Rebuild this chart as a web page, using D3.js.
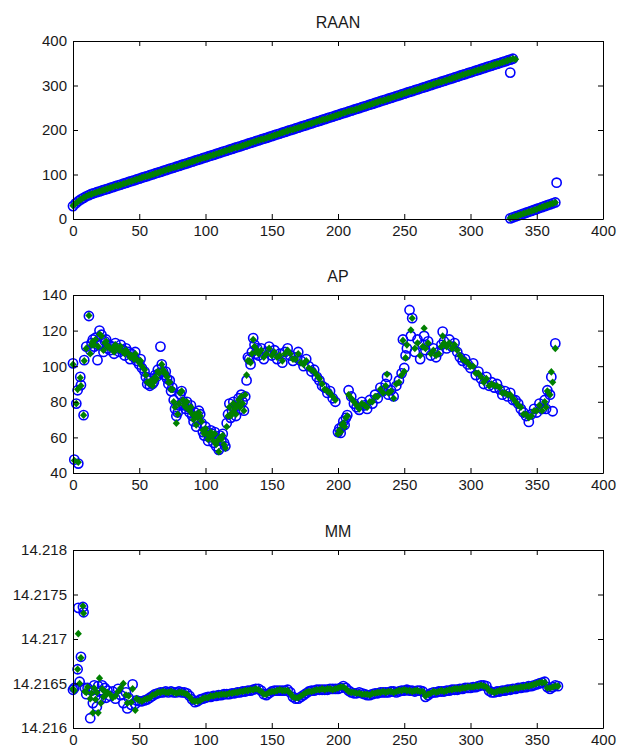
<!DOCTYPE html>
<html>
<head>
<meta charset="utf-8">
<script src="https://cdn.jsdelivr.net/npm/d3@7"></script>
<style>
  body { margin: 0; background: #fff; }
  text { font-family: "Liberation Sans", Arial, sans-serif; }
</style>
</head>
<body>
<svg id="chart" width="617" height="751"></svg>
<script>
// tick values
const xTicks = [0, 50, 100, 150, 200, 250, 300, 350, 400];
const raanTicks = [0, 100, 200, 300, 400];
const apTicks = [40, 60, 80, 100, 120, 140];
const mmTicks = [14.216, 14.2165, 14.217, 14.2175, 14.218];
const mmTickLabels = ["14.216", "14.2165", "14.217", "14.2175", "14.218"];

// RAAN (blue circles = obs, green diamonds = fit)
const raanDays = [0,2,4,6,8,10,12,14,16,18,20,22,24,26,28,30,32,34,36,38,
  40,42,44,46,48,50,52,54,56,58,60,62,64,66,68,70,72,74,76,78,
  80,82,84,86,88,90,92,94,96,98,100,102,104,106,108,110,112,114,116,118,
  120,122,124,126,128,130,132,134,136,138,140,142,144,146,148,150,152,154,156,158,
  160,162,164,166,168,170,172,174,176,178,180,182,184,186,188,190,192,194,196,198,
  200,202,204,206,208,210,212,214,216,218,220,222,224,226,228,230,232,234,236,238,
  240,242,244,246,248,250,252,254,256,258,260,262,264,266,268,270,272,274,276,278,
  280,282,284,286,288,290,292,294,296,298,300,302,304,306,308,310,312,314,316,318,
  320,322,324,326,328,330,332,
  330,332,334,336,338,340,342,344,346,348,350,352,354,356,358,360,362,364,
  330,365,334];
const raanObs = [29,35,40,44,47.5,51,53.5,56.4,58.3,60.2,62.1,64.0,65.9,67.8,69.7,71.7,73.6,75.5,77.4,79.3,
  81.2,83.1,85.0,86.9,88.8,90.8,92.7,94.6,96.5,98.4,100.3,102.2,104.1,106.0,107.9,109.9,111.8,113.7,115.6,117.5,
  119.4,121.3,123.2,125.1,127.0,129.0,130.9,132.8,134.7,136.6,138.5,140.4,142.3,144.2,146.1,148.1,150.0,151.9,153.8,155.7,
  157.6,159.5,161.4,163.3,165.2,167.2,169.1,171.0,172.9,174.8,176.7,178.6,180.5,182.4,184.3,186.3,188.2,190.1,192.0,193.9,
  195.8,197.7,199.6,201.5,203.4,205.4,207.3,209.2,211.1,213.0,214.9,216.8,218.7,220.6,222.5,224.5,226.4,228.3,230.2,232.1,
  234.0,235.9,237.8,239.7,241.6,243.6,245.5,247.4,249.3,251.2,253.1,255.0,256.9,258.8,260.7,262.7,264.6,266.5,268.4,270.3,
  272.2,274.1,276.0,277.9,279.8,281.8,283.7,285.6,287.5,289.4,291.3,293.2,295.1,297.0,298.9,300.9,302.8,304.7,306.6,308.5,
  310.4,312.3,314.2,316.1,318.0,320.0,321.9,323.8,325.7,327.6,329.5,331.4,333.3,335.2,337.1,339.1,341.0,342.9,344.8,346.7,
  348.6,350.5,352.4,354.3,356.2,358.2,360.1,
  1.5,3.6,5.7,7.8,9.9,12.0,14.1,16.2,18.3,20.4,22.5,24.6,26.7,28.8,30.9,33.0,35.1,37.2,
  329,81.6,null];
const raanFit = [30,35,40,44,48,51,54,56,58,60,62,64,66,68,70,72,74,75,77,79,
  81,83,85,87,89,91,93,95,96,98,100,102,104,106,108,110,112,114,116,117,
  119,121,123,125,127,129,131,133,135,137,138,140,142,144,146,148,150,152,154,156,
  158,160,161,163,165,167,169,171,173,175,177,179,180,182,184,186,188,190,192,194,
  196,198,200,201,203,205,207,209,211,213,215,217,219,221,223,224,226,228,230,232,
  234,236,238,240,242,244,245,247,249,251,253,255,257,259,261,263,265,266,268,270,
  272,274,276,278,280,282,284,286,287,289,291,293,295,297,299,301,303,305,307,308,
  310,312,314,316,318,320,322,324,326,328,329,331,333,335,337,339,341,343,345,347,
  349,350,352,354,356,358,360,
  2,4,6,8,10,12,14,16,18,20,22,25,27,29,31,33,35,37,
  null,null,359];

// AP
const apDays = [0,1,2.5,3.5,4,5.5,6,8,8.5,10,12,13,14,15,16,17,18.5,19,20,21.5,
  23,24,25,26,27,28,30,31,32,34,35,36,38,39,40,42,43,44,46,47,
  48,50,51,52,54,55,56,57,58,59,60,61,62,63,64,65,66,67,68,69,
  70,71,72,73,74,75,76,77,78,79,80,81,82,83,84,85,86,87,88,89,
  90,91,92,93,94,95,96,97,98,99,100,101,102,103,104,105,106,107,108,109,
  110,111,112,113,114,115,116,117,118,119,120,121,122,123,124,125,126,127,128,129,
  130,131,132,133,134,135,136,137,138,139,
  140,142,144,146,148,150,152,154,156,158,160,162,164,166,168,170,172,174,176,178,
  180,182,184,186,188,190,192,194,196,198,
  200,201,202,203,204,205,206,207,208,
  210,212,214,216,218,220,222,224,226,228,230,232,234,236,
  237,238,240,242,244,246,248,249,250,251,252,254,255,256,258,260,262,264,265,266,
  268,270,272,274,276,278,279,280,282,284,286,288,290,292,294,296,298,300,302,304,
  306,308,310,312,314,316,318,320,322,324,326,328,330,332,334,336,338,340,342,344,
  346,348,350,352,354,356,357,358,360,361,362,364];
const apObs = [101.6,47.5,79,86.5,45.3,94,89.4,72.5,103.4,111,128.2,109,113,115,111,116,103.4,112,120,117.7,
  108,114,115,110,112,109,111,107,113,110,108,112,109,106,110,108,104,107,105,108,
  103,101,104,99,97,94,90,92,89,93,90,91,95,94,98,96,111,101,97,95,
  97,93,90,92,86,88,81,76,72,74,78,84,86,80,78,76,80,77,74,78,
  72,69,74,66,70,75,73,68,63,61,66,63,58,60,64,62,57,63,55,59,
  53,61,58,62,57,55,68,73,79,71,75,80,77,72,78,82,76,84,80,75,
  83,92,105,104,101,108,115.8,112,107,110,
  106,110,104,108,111,106,109,104,107,102,108,110,106,103,105,108,103,100,104,100,
  97,98,94,92,89,88,85,86,82,80,
  63,65,62.5,66,69,67,71,72.5,86.5,
  83,79,77,75.5,80,78,76,81,79,84,82,88,86,90,
  94,84,86.5,83,89,92,96,115,99,106,110,131.6,117,127,108,115,104,112,117,109,
  114,106,110,105,108,112,119.4,114,110,115,111,113,108,105,103,104,101,99,101.6,95,
  97,93,90,94,89,91,88,90,87,84,86,83,85,81,80.9,79,76,74,72,68.7,
  73,76,74,79,76,81,76,86.5,84,94,74.7,112.8];
const apFit = [101,47,79,87,46,93.5,89,72.5,103,110,128.5,107,112,114,112,115,null,111,118,117,
  109,113,114,111,111,110,110,108,112,110,109,111,108,107,109,107,105,106,104,107,
  104,102,103,100,98,95,91,91,90,92,89,91,94,93,97,96,null,101,98,96,
  96,94,91,91,87,87,80,77,68,73,79,85,86,81,78,77,80,76,75,77,
  73,70,73,67,71,74,72,69,64,62,65,62,59,61,63,61,58,62,56,58,
  52,60,59,61,56,54,66,72,77,72,74,79,76,73,78,81,77,83,79,75,
  84,95,103,103,102,107,115,111,108,109,
  107,109,105,107,110,106,108,105,106,103,107,109,107,104,104,107,102,101,103,99,
  98,97,95,93,90,87,86,85,83,81,
  62,64,63,67,68,66,71,72,84,
  82,80,78,76,79,78,77,80,80,83,83,87,85,89,
  95.5,85,86,82,90,91,95,114.5,97,104.7,112,null,120.3,126.9,110,113,106,111,121.3,110,
  113,107,109,106,107,111,117,113,111,113,110,112,109,106,104,103,102,100,100,96,
  96,94,91,93,89,90,89,89,88,85,85,84,84,82,80,78,77,73,73,71,
  72,75,75,78,75,80,77,86,84,96.8,91,110];

// MM
const mmDays = [0,1,3.5,4,5,6,7.5,8,9,10,11,13,14,15,16,17,18,19,20,21,
  22,23,24,25,26,28,30,32,34,36,38,40,41,42,44,45,47,48,
  50,52,54,56,58,60,62,64,66,68,70,72,74,76,78,80,82,84,86,88,
  90,92,94,96,98,100,102,104,106,108,110,112,114,116,118,120,122,124,126,128,
  130,132,134,136,138,140,142,144,146,148,150,152,154,156,158,160,162,164,166,168,
  170,172,174,176,178,180,182,184,186,188,190,192,194,196,198,200,202,204,206,208,
  210,212,214,216,218,220,222,224,226,228,230,232,234,236,238,240,242,244,246,248,
  250,252,254,256,258,260,262,264,266,268,270,272,274,276,278,280,282,284,286,288,
  290,292,294,296,298,300,302,304,306,308,310,312,314,316,318,320,322,324,326,328,
  330,332,334,336,338,340,342,344,346,348,350,352,354,356,358,360,362,364,366];
const mmObs = [14.21643,14.21645,14.21666,14.21735,14.21652,14.2168,14.21736,14.2173,14.21645,14.21638,
  14.21645,14.21611,14.21642,14.21628,14.21648,14.21636,14.21624,14.21647,14.21641,14.21632,
  14.21648,14.21639,14.21645,14.21634,14.21642,14.21636,14.21641,14.21633,14.21644,14.21637,
  14.21628,14.2164,14.21622,14.21634,14.21626,14.21649,14.21627,14.21631,
  14.2163,14.2163,14.21631,14.21632,14.21634,14.21636,14.21638,14.21639,14.2164,14.2164,
  14.21641,14.2164,14.21641,14.2164,14.2164,14.21641,14.2164,14.2164,14.21639,14.21636,
  14.21632,14.21629,14.2163,14.21632,14.21633,14.21634,14.21635,14.21635,14.21636,14.21636,
  14.21637,14.21637,14.21638,14.21638,14.21638,14.21639,14.21639,14.2164,14.2164,14.21641,
  14.21641,14.21642,14.21642,14.21643,14.21644,14.21644,14.21642,14.21638,14.21637,14.21639,
  14.21641,14.21642,14.21642,14.21642,14.21642,14.21642,14.21643,14.2164,14.21635,14.21633,
  14.21633,14.21635,14.21637,14.21639,14.21641,14.21642,14.21642,14.21643,14.21643,14.21643,
  14.21643,14.21643,14.21644,14.21644,14.21644,14.21644,14.21645,14.21647,14.21645,14.21642,
  14.2164,14.21639,14.21639,14.2164,14.21639,14.21638,14.21637,14.21637,14.21638,14.21639,
  14.21639,14.2164,14.2164,14.2164,14.2164,14.21641,14.21641,14.2164,14.21641,14.21642,
  14.21642,14.21643,14.21642,14.21642,14.21641,14.21642,14.21642,14.21641,14.21635,14.21637,
  14.21639,14.2164,14.2164,14.21641,14.21641,14.21641,14.21642,14.21642,14.21643,14.21643,
  14.21643,14.21644,14.21644,14.21645,14.21645,14.21645,14.21646,14.21646,14.21647,14.21648,
  14.21648,14.21647,14.21642,14.2164,14.2164,14.21641,14.21641,14.21642,14.21642,14.21643,
  14.21643,14.21644,14.21644,14.21645,14.21645,14.21646,14.21646,14.21647,14.21647,14.21648,
  14.21649,14.2165,14.21651,14.21652,14.21646,14.21644,14.21646,14.21648,14.21647];
const mmFit = [14.21644,14.21642,14.21666,14.21706,14.2165,14.21679,14.21737,14.21729,14.21641,14.2164,
  14.21646,14.21633,14.21639,14.21617,14.21645,14.21632,14.2164,14.21617,14.21656,14.21628,
  14.21644,14.21635,14.21641,14.21637,14.2164,14.21638,14.21634,14.21636,14.21641,14.21645,
  14.2165,14.21637,14.21628,14.21636,14.21629,14.21644,14.2162,14.21633,
  14.21631,14.2163,14.21632,14.21633,14.21634,14.21637,14.21638,14.2164,14.2164,14.21641,
  14.2164,14.2164,14.21641,14.2164,14.21639,14.2164,14.2164,14.21639,14.21638,14.21635,
  14.21631,14.2163,14.2163,14.21631,14.21633,14.21634,14.21634,14.21636,14.21636,14.21637,
  14.21637,14.21638,14.21638,14.21638,14.21639,14.21639,14.2164,14.2164,14.21641,14.21641,
  14.21642,14.21642,14.21643,14.21643,14.21644,14.21643,14.21641,14.21638,14.21638,14.2164,
  14.21641,14.21641,14.21642,14.21643,14.21642,14.21642,14.21642,14.21639,14.21635,14.21634,
  14.21634,14.21636,14.21638,14.2164,14.21641,14.21641,14.21642,14.21643,14.21643,14.21644,
  14.21643,14.21644,14.21644,14.21643,14.21644,14.21645,14.21646,14.21646,14.21644,14.21641,
  14.2164,14.2164,14.21639,14.21639,14.21638,14.21638,14.21638,14.21637,14.21639,14.21639,
  14.2164,14.2164,14.21641,14.2164,14.21641,14.21641,14.2164,14.21641,14.21642,14.21642,
  14.21643,14.21642,14.21642,14.21641,14.21642,14.21642,14.21641,14.21641,14.21636,14.21638,
  14.21639,14.21641,14.2164,14.21641,14.21642,14.21641,14.21642,14.21643,14.21643,14.21644,
  14.21644,14.21644,14.21645,14.21645,14.21646,14.21646,14.21646,14.21647,14.21647,14.21648,
  14.21647,14.21646,14.21642,14.21641,14.2164,14.21641,14.21642,14.21642,14.21643,14.21643,
  14.21644,14.21644,14.21645,14.21645,14.21646,14.21646,14.21647,14.21647,14.21648,14.21649,
  14.2165,14.21651,14.21651,14.21651,14.21645,14.21645,14.21646,14.21647,14.21647];

const panels = [
  { title: "RAAN", top: 41, bottom: 219, domain: [0, 400], ticks: raanTicks, labels: raanTicks.map(String),
    days: raanDays, obs: raanObs, fit: raanFit },
  { title: "AP", top: 295, bottom: 473, domain: [40, 140], ticks: apTicks, labels: apTicks.map(String),
    days: apDays, obs: apObs, fit: apFit },
  { title: "MM", top: 550, bottom: 728, domain: [14.216, 14.218], ticks: mmTicks, labels: mmTickLabels,
    days: mmDays, obs: mmObs, fit: mmFit }
];

const svg = d3.select("#chart");
const left = 73, right = 603;
const x = d3.scaleLinear().domain([0, 400]).range([left, right]);
const diamond = "M0,-3.8L3.6,0L0,3.8L-3.6,0Z";
const font = '"Liberation Sans", Arial, sans-serif';

panels.forEach(p => {
  const y = d3.scaleLinear().domain(p.domain).range([p.bottom, p.top]);
  const g = svg.append("g");
  const n = Math.min(p.days.length, p.obs.length, p.fit.length);
  const idx = d3.range(n);

  g.append("g").selectAll("circle")
    .data(idx.filter(i => p.obs[i] != null))
    .join("circle")
    .attr("cx", i => x(p.days[i]))
    .attr("cy", i => y(p.obs[i]))
    .attr("r", 4.6)
    .attr("fill", "none")
    .attr("stroke", "#0000ff")
    .attr("stroke-width", 1.6);

  g.append("g").selectAll("path")
    .data(idx.filter(i => p.fit[i] != null))
    .join("path")
    .attr("d", diamond)
    .attr("transform", i => `translate(${x(p.days[i])},${y(p.fit[i])})`)
    .attr("fill", "#008000");

  // box with inward ticks on all four sides
  const styleAxis = a => a.attr("font-size", 15).attr("font-family", font)
    .call(s => s.selectAll("line, path").attr("stroke", "#000"))
    .call(s => s.selectAll("text").attr("fill", "#1a1a1a"));

  g.append("g").attr("transform", `translate(0,${p.bottom})`)
    .call(d3.axisBottom(x).tickValues(xTicks).tickSizeInner(-5).tickSizeOuter(0).tickPadding(6))
    .call(styleAxis);
  g.append("g").attr("transform", `translate(0,${p.top})`)
    .call(d3.axisTop(x).tickValues(xTicks).tickSizeInner(-5).tickSizeOuter(0).tickFormat(""))
    .call(styleAxis);
  g.append("g").attr("transform", `translate(${left},0)`)
    .call(d3.axisLeft(y).tickValues(p.ticks).tickSizeInner(-5).tickSizeOuter(0).tickPadding(6)
      .tickFormat((d, i) => p.labels[i]))
    .call(styleAxis);
  g.append("g").attr("transform", `translate(${right},0)`)
    .call(d3.axisRight(y).tickValues(p.ticks).tickSizeInner(-5).tickSizeOuter(0).tickFormat(""))
    .call(styleAxis);

  g.append("text")
    .attr("x", (left + right) / 2)
    .attr("y", p.top - 13)
    .attr("text-anchor", "middle")
    .attr("font-size", 16)
    .attr("fill", "#1a1a1a")
    .text(p.title);
});
</script>
</body>
</html>
